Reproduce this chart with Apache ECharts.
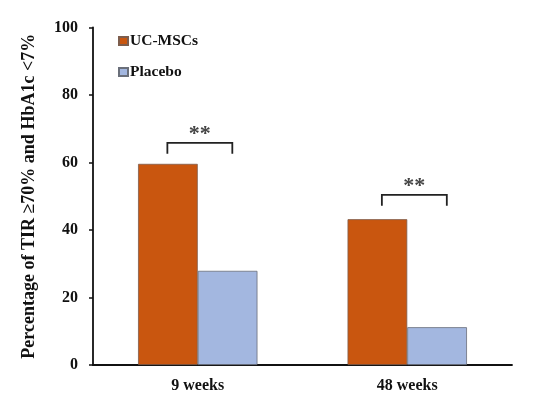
<!DOCTYPE html>
<html>
<head>
<meta charset="utf-8">
<script src="https://cdn.jsdelivr.net/npm/echarts@6/dist/echarts.min.js"></script>
<style>
  html, body { margin: 0; padding: 0; background: #fff; }
  #chart { width: 535px; height: 398px; }
</style>
</head>
<body>
<div id="chart"></div>
<script>
const categories = ['9 weeks', '48 weeks'];
const ucMscs = [59.6, 43.2];
const placebo = [27.9, 11.2];
// significance brackets: [category index, bracket top, leg length]
const brackets = [[0, 65.8, 3.2], [1, 50.4, 3.2]];
const sigLabel = '**';

const serif = '"Liberation Serif", "Times New Roman", serif';
const chart = echarts.init(document.getElementById('chart'), null, { renderer: 'canvas' });

const option = {
  animation: false,
  backgroundColor: '#fff',
  grid: { left: 93, right: 23, top: 27.5, bottom: 33 },
  legend: {
    orient: 'vertical',
    left: 118,
    top: 33,
    padding: 0,
    itemWidth: 9,
    itemHeight: 8,
    itemGap: 15,
    icon: 'rect',
    textStyle: { fontFamily: serif, fontWeight: 'bold', fontSize: 15.5, color: '#111', padding: [0, 0, 0, -3] },
    data: ['UC-MSCs', 'Placebo']
  },
  xAxis: {
    type: 'category',
    data: categories,
    axisLine: { lineStyle: { color: '#111', width: 1.8 } },
    axisTick: { show: false },
    axisLabel: { fontFamily: serif, fontWeight: 'bold', fontSize: 16, color: '#111', margin: 13 }
  },
  yAxis: {
    type: 'value',
    min: 0,
    max: 100,
    interval: 20,
    name: 'Percentage of TIR \u226570% and HbA1c <7%',
    nameLocation: 'middle',
    nameGap: 55,
    nameTextStyle: { fontFamily: serif, fontWeight: 'bold', fontSize: 18, color: '#111' },
    axisLine: { show: true, lineStyle: { color: '#111', width: 1.8 } },
    axisTick: { show: true, length: 4, lineStyle: { color: '#111', width: 1.5 } },
    splitLine: { show: false },
    axisLabel: { fontFamily: serif, fontWeight: 'bold', fontSize: 16, color: '#111', margin: 15 }
  },
  series: [
    {
      name: 'UC-MSCs',
      type: 'bar',
      data: ucMscs,
      barGap: '0%',
      barCategoryGap: '43%',
      itemStyle: { color: '#C9560F', borderColor: '#7d5d4d', borderWidth: 0.8 }
    },
    {
      name: 'Placebo',
      type: 'bar',
      data: placebo,
      itemStyle: { color: '#A3B7E0', borderColor: '#6a6f7a', borderWidth: 0.8 }
    },
    {
      type: 'custom',
      silent: true,
      data: brackets,
      renderItem: (params, api) => {
        const idx = api.value(0);
        const top = api.value(1);
        const leg = api.value(2);
        const p = api.coord([idx, top]);
        const bottomY = api.coord([idx, top - leg])[1];
        const band = api.size([1, 0])[0];
        const x1 = p[0] - band * 0.145 + idx * 5;
        const x2 = p[0] + band * 0.165 + idx * 5;
        const style = { stroke: '#222', lineWidth: 1.8, fill: null };
        return {
          type: 'group',
          children: [
            { type: 'polyline', shape: { points: [[x1, bottomY], [x1, p[1]], [x2, p[1]], [x2, bottomY]] }, style },
            {
              type: 'text',
              style: {
                text: sigLabel,
                x: (x1 + x2) / 2,
                y: p[1] + 2,
                align: 'center',
                verticalAlign: 'bottom',
                fontFamily: serif,
                fontWeight: 'bold',
                fontSize: 22,
                fill: '#444'
              }
            }
          ]
        };
      }
    }
  ]
};

chart.setOption(option);
</script>
</body>
</html>
